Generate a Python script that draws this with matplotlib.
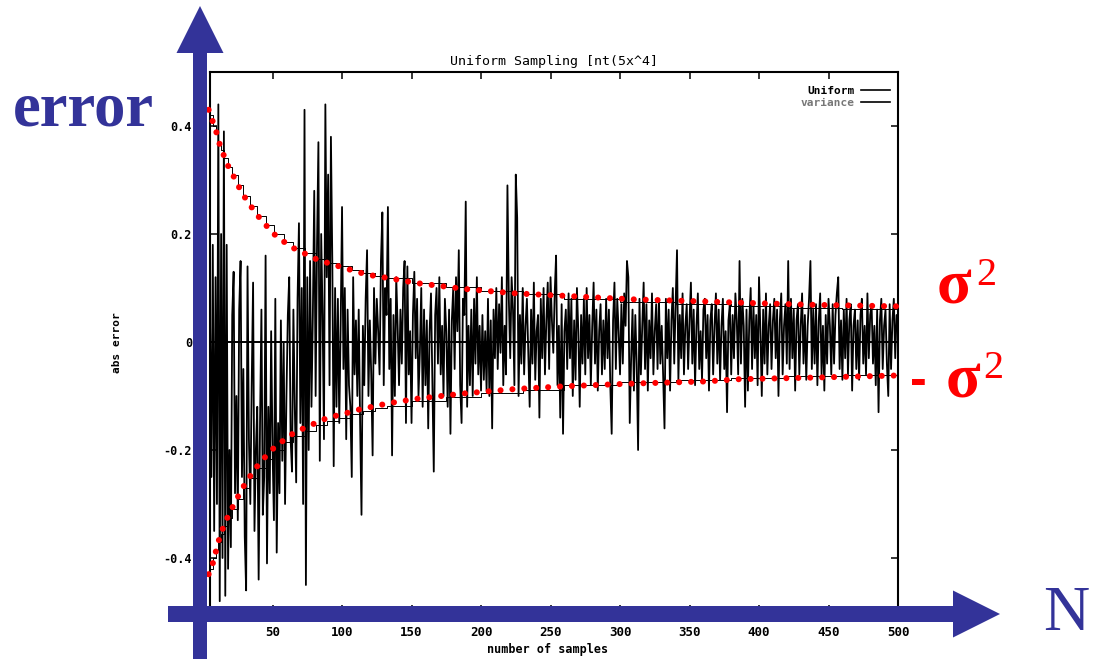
import numpy as np
import matplotlib
matplotlib.use("Agg")
import matplotlib.pyplot as plt
from matplotlib.patches import FancyArrow
from matplotlib.lines import Line2D

plt.rcParams['font.family'] = ['DejaVu Sans Mono']
plt.rcParams['font.weight'] = 'bold'

# absolute error of the estimate for each number of samples (in hundredths)
error_hundredths = [
    10, -20, 15, -30, 5, -25, 18, -35, 12, -30,
    44, -48, 20, -40, 39, -47, 18, -42, -20, -38,
    5, 13, -28, -10, -33, 6, 15, -25, -5, -36,
    -46, 14, -18, -30, -8, 11, -35, -20, -12, -44,
    -15, 6, -32, -25, 16, -41, -12, -28, 2, -20,
    -33, 8, -39, -15, -28, 4, -22, 0, -30, -10,
    5, 12, -18, -24, 6, -12, -26, 8, 22, -15,
    10, -30, 43, -45, 12, -20, 15, -12, 5, 28,
    -10, 18, 37, -22, 20, 5, -18, 44, 12, 31,
    -8, 38, 15, -23, 10, -12, 8, -15, 3, 25,
    -5, 10, -18, 6, -8, -12, -25, 12, -6, 4,
    -10, 6, -15, -32, 3, -8, 8, 17, -10, 4,
    -6, -21, 10, -4, 8, 2, -6, 15, 24, -8,
    10, 5, 25, -5, 8, -21, 5, -10, 12, 3,
    -8, 6, -4, 10, 15, -15, 14, -6, 2, -15,
    5, 13, -3, 8, -10, -2, 10, -12, 6, -8,
    4, -16, 2, 9, -7, -24, 5, 10, -4, 12,
    -6, 3, -10, 8, 2, -12, 6, -17, 4, 10,
    -5, 12, 2, 17, -8, -15, 8, 5, 26, -12,
    3, -8, 6, -10, 8, -4, 12, -6, 3, -9,
    5, -7, 2, -9, 8, -10, 4, -16, 6, -3,
    10, -5, 7, -2, 12, -8, 3, -6, 29, 8,
    -3, 12, 6, -8, 31, 23, -10, 5, -4, 10,
    -6, 3, 8, -2, -12, 6, -4, 11, -7, 2,
    5, -14, 8, -3, 10, -6, 4, 11, -5, 12,
    4, -2, 9, 16, -8, 3, -14, 7, -17, 2,
    6, -5, 9, -3, 8, -10, 4, -7, 10, 2,
    -12, 5, -4, 8, -6, 10, -3, 5, -8, 3,
    11, -4, 6, -9, 2, 7, -6, 4, -5, 8,
    -3, 6, -8, -17, 4, 11, -5, 8, 2, -6,
    7, -4, 9, 3, 15, 12, -15, -3, 6, -9,
    5, -4, -20, 8, -6, 3, 11, -5, 7, -9,
    4, -3, 9, -6, 2, 7, -5, 8, -4, 3,
    -6, -16, 8, -3, 6, -9, 4, 10, -4, 7,
    17, -7, 5, -3, 9, -6, 3, 7, -5, 4,
    11, -4, 6, -8, 3, 9, -5, 2, -7, 6,
    8, -3, 5, -9, 4, 7, -6, 3, 9, -4,
    6, -7, 3, 8, -5, 2, -13, 4, 7, -6,
    5, -3, 9, 4, -6, 15, -4, 8, 3, -12,
    6, -9, 4, 10, -5, 7, -3, 5, -8, 12,
    2, -10, 6, -4, 9, -6, 3, 7, -5, 4,
    8, -3, 6, -10, 4, 9, -6, 3, 7, -4,
    15, -5, 8, -3, 6, -9, 4, 7, -6, 3,
    9, -4, 5, -7, 3, 8, 15, -5, 6, -4,
    7, -8, 4, 9, -6, 3, -9, 5, -4, 8,
    3, -6, 7, -4, 5, 9, 12, -5, 4, -7,
    6, -3, 8, -6, 4, 7, -9, 3, 6, -5,
    4, -7, 5, 8, -4, 3, -6, 9, -3, 5,
    7, -4, 3, -8, 6, -13, 4, 8, -5, 3,
    6, -4, -10, 7, -5, 4, 8, -3, 5, 2,
]

# variance curve drawn by the plotting program (stepped)
var_step_n = [5, 7, 9, 11, 13, 15, 18, 21, 25, 29, 34, 39, 45, 51, 58, 65, 73,
              81, 89, 98, 107, 115, 124, 132, 150, 175, 200, 230, 260, 300,
              340, 380, 420, 460, 500]
var_step_v = [0.42, 0.40, 0.385, 0.37, 0.355, 0.34, 0.325, 0.31, 0.29, 0.27,
              0.252, 0.234, 0.216, 0.2, 0.186, 0.174, 0.164, 0.154, 0.147,
              0.14, 0.133, 0.127, 0.122, 0.118, 0.11, 0.102, 0.095, 0.088,
              0.080, 0.074, 0.071, 0.066, 0.063, 0.061, 0.06]

# sigma^2 envelope overlay (red dotted)
sigma_upper_n = [4, 6, 9, 11, 14, 17, 21, 25, 29, 34, 39, 45, 51, 58, 65, 73,
                 81, 89, 98, 107, 115, 124, 132, 154, 189, 225, 260, 309, 362,
                 384, 437, 500]
sigma_upper_v = [0.43, 0.415, 0.395, 0.373, 0.352, 0.331, 0.312, 0.291, 0.272,
                 0.253, 0.235, 0.217, 0.2, 0.186, 0.174, 0.164, 0.154, 0.147,
                 0.14, 0.133, 0.127, 0.122, 0.119, 0.109, 0.098, 0.09, 0.0855,
                 0.079, 0.075, 0.073, 0.069, 0.066]
sigma_lower_n = [4, 6, 8, 11, 14, 17, 21, 25, 29, 34, 39, 45, 51, 58, 65, 73,
                 81, 89, 98, 107, 115, 124, 132, 154, 189, 225, 260, 309, 362,
                 384, 437, 500]
sigma_lower_v = [-0.43, -0.42, -0.40, -0.37, -0.347, -0.328, -0.307, -0.287,
                 -0.268, -0.248, -0.23, -0.212, -0.196, -0.182, -0.169, -0.159,
                 -0.15, -0.141, -0.135, -0.129, -0.123, -0.119, -0.114, -0.105,
                 -0.095, -0.087, -0.082, -0.077, -0.073, -0.069, -0.066, -0.062]

x_ticks = [50, 100, 150, 200, 250, 300, 350, 400, 450, 500]
y_ticks = [-0.4, -0.2, 0.0, 0.2, 0.4]
y_tick_labels = ['-0.4', '-0.2', '0', '0.2', '0.4']

samples = np.arange(1, len(error_hundredths) + 1)
abs_error = np.array(error_hundredths) / 100.0

W, H = 1094, 659
BLUE = '#333399'
RED = '#ff0000'

fig = plt.figure(figsize=(W / 100, H / 100), dpi=100)
fig.patch.set_facecolor('white')
ax = fig.add_axes([210 / W, 1 - 612 / H, 688 / W, 540 / H])

ax.plot(samples, abs_error, color='black', lw=1.3, zorder=3)
ax.plot(var_step_n, var_step_v, drawstyle='steps-post', color='black', lw=0.7, zorder=3)
ax.plot(var_step_n, -np.array(var_step_v), drawstyle='steps-post', color='black', lw=0.7, zorder=3)
ax.axhline(0, color='black', lw=1.4, zorder=3)

dots = dict(color=RED, lw=4.4, linestyle=(0, (0.001, 1.95)), dash_capstyle='round',
            clip_on=False, zorder=5)
ax.plot(sigma_upper_n, sigma_upper_v, **dots)
ax.plot(sigma_lower_n, sigma_lower_v, **dots)

ax.set_xlim(5, 500)
ax.set_ylim(-0.5, 0.5)
ax.set_xticks(x_ticks)
ax.set_xticklabels([str(t) for t in x_ticks], fontsize=9)
ax.set_yticks(y_ticks)
ax.set_yticklabels(y_tick_labels, fontsize=8.5)
ax.tick_params(direction='in', length=5, width=1.1, top=True, right=True)
ax.tick_params(axis='y', pad=13)
ax.tick_params(axis='x', pad=10)
for s in ax.spines.values():
    s.set_linewidth(1.5)

ax.set_title('Uniform Sampling [nt(5x^4]', fontsize=9.5, pad=5)

handles = [Line2D([], [], color='black', lw=1.2), Line2D([], [], color='black', lw=1.2)]
leg = ax.legend(handles, ['Uniform', 'variance'], loc='upper right',
                bbox_to_anchor=(1 - 8 / 688, 1 - 14 / 540), markerfirst=False,
                frameon=False, fontsize=8, handlelength=2.6, handletextpad=0.6,
                labelspacing=0.2, borderpad=0, borderaxespad=0)
leg.get_texts()[1].set_color('#777777')

# annotation layer in pixel coordinates
ov = fig.add_axes([0, 0, 1, 1], zorder=10)
ov.set_xlim(0, W)
ov.set_ylim(H, 0)
ov.axis('off')

ov.text(117, 343, 'abs error', rotation=90, ha='center', va='center', fontsize=8)
ov.text(548, 643, 'number of samples', ha='center', va='top', fontsize=8.5)

ov.add_patch(FancyArrow(200, 668, 0, 6 - 668, width=14, head_width=47, head_length=47,
                        length_includes_head=True, color=BLUE, lw=0))
ov.add_patch(FancyArrow(168, 614, 1000 - 168, 0, width=16, head_width=47, head_length=47,
                        length_includes_head=True, color=BLUE, lw=0))

serif = 'Liberation Serif'
ov.text(13, 125, 'error', fontsize=45, family=serif, weight='bold',
        color=BLUE, ha='left', va='baseline')
ov.text(1043, 630, 'N', fontsize=46, family=serif, weight='normal',
        color=BLUE, ha='left', va='baseline')

# sigma squared labels for the envelope
ov.text(937, 303, 'σ', fontsize=46, family=serif, weight='bold',
        color=RED, ha='left', va='baseline')
ov.text(976, 285, '2', fontsize=29, family=serif, weight='normal',
        color=RED, ha='left', va='baseline')
ov.text(910, 395, '-', fontsize=36, family='Liberation Sans', weight='bold',
        color=RED, ha='left', va='baseline')
ov.text(946, 397, 'σ', fontsize=46, family=serif, weight='bold',
        color=RED, ha='left', va='baseline')
ov.text(983, 378, '2', fontsize=29, family=serif, weight='normal',
        color=RED, ha='left', va='baseline')

fig.savefig('out.png', dpi=100, facecolor='white')
